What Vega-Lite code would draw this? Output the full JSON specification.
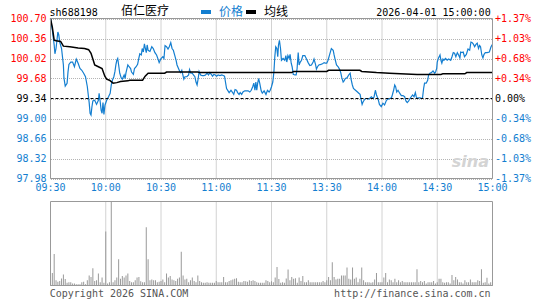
{
  "$schema": "https://vega.github.io/schema/vega-lite/v6.json",
  "width": 545,
  "height": 300,
  "autosize": {"type": "none"},
  "padding": 0,
  "background": "#ffffff",
  "config": {
    "view": {"stroke": null},
    "font": "DejaVu Sans Mono",
    "axis": {"labelFont": "DejaVu Sans Mono", "labelFontSize": 10, "domain": false, "ticks": false, "tickSize": 0, "title": null, "gridColor": "#b4b4b4", "gridDash": [1, 1], "gridWidth": 1, "gridOpacity": 1, "labelOverlap": false, "labelFlush": false, "labelBound": false}
  },
  "datasets": {
    "times": [
      {"t":0,"label":"09:30"},{"t":30,"label":"10:00"},{"t":60,"label":"10:30"},{"t":90,"label":"11:00"},{"t":120,"label":"11:30"},{"t":150,"label":"13:30"},{"t":180,"label":"14:00"},{"t":210,"label":"14:30"},{"t":240,"label":"15:00"}
    ],
    "price": [
      {"t":0,"p":100.70},{"t":1,"p":100.50},{"t":2,"p":100.25},{"t":2.4,"p":100.10},{"t":3,"p":100.19},{"t":4,"p":100.47},{"t":4.5,"p":100.42},{"t":5,"p":100.30},{"t":6,"p":100.19},{"t":7,"p":99.91},{"t":7.3,"p":99.69},{"t":8,"p":99.55},{"t":9,"p":99.60},{"t":9.5,"p":99.79},{"t":10,"p":99.92},{"t":11,"p":99.96},{"t":12,"p":99.96},{"t":13,"p":99.88},{"t":14,"p":100.01},{"t":15,"p":99.94},{"t":16,"p":99.85},{"t":17,"p":99.82},{"t":18,"p":99.77},{"t":19,"p":99.71},{"t":20,"p":99.54},{"t":20.4,"p":99.43},{"t":21,"p":99.27},{"t":21.5,"p":99.09},{"t":22,"p":99.06},{"t":22.5,"p":99.20},{"t":23,"p":99.30},{"t":24,"p":99.31},{"t":25,"p":99.24},{"t":26,"p":99.31},{"t":26.4,"p":99.43},{"t":27,"p":99.28},{"t":27.5,"p":99.14},{"t":28,"p":99.09},{"t":28.5,"p":99.27},{"t":29,"p":99.07},{"t":29.6,"p":99.23},{"t":30.5,"p":99.31},{"t":31.5,"p":99.37},{"t":32.4,"p":99.43},{"t":33,"p":99.57},{"t":33.6,"p":99.65},{"t":34.4,"p":99.71},{"t":35,"p":99.80},{"t":35.5,"p":99.91},{"t":36,"p":99.99},{"t":36.5,"p":100.02},{"t":37,"p":99.91},{"t":37.6,"p":99.77},{"t":38.4,"p":99.69},{"t":39,"p":99.67},{"t":40,"p":99.74},{"t":40.5,"p":99.68},{"t":41,"p":99.78},{"t":42,"p":99.91},{"t":42.7,"p":99.88},{"t":43.5,"p":99.85},{"t":44,"p":99.79},{"t":45,"p":99.75},{"t":45.6,"p":99.85},{"t":46.5,"p":99.88},{"t":47.3,"p":99.92},{"t":48,"p":100.03},{"t":48.5,"p":100.10},{"t":49.3,"p":100.08},{"t":49.8,"p":100.19},{"t":50.4,"p":100.13},{"t":51,"p":100.27},{"t":51.5,"p":100.19},{"t":52,"p":100.12},{"t":52.5,"p":100.25},{"t":53,"p":100.16},{"t":54,"p":100.14},{"t":55,"p":100.22},{"t":55.8,"p":100.19},{"t":56.7,"p":100.12},{"t":57.6,"p":100.08},{"t":58.4,"p":100.01},{"t":59,"p":99.95},{"t":60,"p":100.02},{"t":61,"p":100.05},{"t":61.6,"p":100.02},{"t":62.2,"p":100.24},{"t":63,"p":100.22},{"t":63.8,"p":100.18},{"t":64.5,"p":100.22},{"t":65.3,"p":100.29},{"t":66,"p":100.19},{"t":66.7,"p":100.16},{"t":67.5,"p":100.07},{"t":68.2,"p":99.99},{"t":68.7,"p":99.91},{"t":69.5,"p":99.85},{"t":70.2,"p":99.80},{"t":70.7,"p":99.78},{"t":71.3,"p":99.82},{"t":71.8,"p":99.75},{"t":72.4,"p":99.67},{"t":73,"p":99.71},{"t":74,"p":99.71},{"t":75,"p":99.74},{"t":75.5,"p":99.83},{"t":76.2,"p":99.77},{"t":77,"p":99.77},{"t":77.6,"p":99.74},{"t":78.4,"p":99.71},{"t":79,"p":99.62},{"t":79.6,"p":99.57},{"t":80.2,"p":99.68},{"t":80.7,"p":99.80},{"t":81.5,"p":99.74},{"t":82.4,"p":99.73},{"t":83.3,"p":99.73},{"t":84.2,"p":99.74},{"t":85,"p":99.77},{"t":85.8,"p":99.74},{"t":86.5,"p":99.78},{"t":87.3,"p":99.75},{"t":88,"p":99.72},{"t":88.7,"p":99.75},{"t":89.5,"p":99.74},{"t":90.2,"p":99.72},{"t":91,"p":99.74},{"t":92,"p":99.73},{"t":93,"p":99.74},{"t":93.8,"p":99.73},{"t":94.5,"p":99.72},{"t":95,"p":99.62},{"t":95.6,"p":99.51},{"t":96.4,"p":99.47},{"t":97,"p":99.44},{"t":98,"p":99.48},{"t":98.7,"p":99.45},{"t":99.5,"p":99.41},{"t":100.2,"p":99.49},{"t":101,"p":99.48},{"t":101.6,"p":99.44},{"t":102.4,"p":99.41},{"t":103,"p":99.44},{"t":103.8,"p":99.41},{"t":104.5,"p":99.45},{"t":105.5,"p":99.47},{"t":106.4,"p":99.47},{"t":107.3,"p":99.47},{"t":108.2,"p":99.45},{"t":109,"p":99.48},{"t":109.8,"p":99.54},{"t":110.4,"p":99.60},{"t":111,"p":99.48},{"t":111.5,"p":99.62},{"t":112,"p":99.48},{"t":112.5,"p":99.60},{"t":113,"p":99.68},{"t":113.6,"p":99.60},{"t":114.4,"p":99.47},{"t":115,"p":99.43},{"t":116,"p":99.47},{"t":117,"p":99.41},{"t":117.8,"p":99.48},{"t":118.7,"p":99.45},{"t":119.3,"p":99.48},{"t":120,"p":99.54},{"t":120.7,"p":99.62},{"t":121.3,"p":99.79},{"t":121.8,"p":100.05},{"t":122.3,"p":100.22},{"t":122.9,"p":100.19},{"t":123.4,"p":100.05},{"t":123.8,"p":100.25},{"t":124.3,"p":100.33},{"t":124.9,"p":100.19},{"t":125.4,"p":99.99},{"t":126.3,"p":100.02},{"t":127.2,"p":99.99},{"t":127.8,"p":100.07},{"t":128.3,"p":99.96},{"t":128.9,"p":100.07},{"t":129.6,"p":100.02},{"t":130.1,"p":100.09},{"t":130.7,"p":99.94},{"t":131.2,"p":99.88},{"t":131.8,"p":99.75},{"t":132.7,"p":99.74},{"t":133.4,"p":99.74},{"t":133.9,"p":99.85},{"t":134.5,"p":100.12},{"t":135,"p":99.91},{"t":135.6,"p":99.96},{"t":136.3,"p":99.99},{"t":137,"p":100.07},{"t":138.1,"p":100.07},{"t":139,"p":100.01},{"t":139.9,"p":99.95},{"t":140.8,"p":99.90},{"t":141.7,"p":99.91},{"t":142.6,"p":99.96},{"t":143.1,"p":100.01},{"t":143.9,"p":99.92},{"t":144.4,"p":99.84},{"t":145,"p":99.88},{"t":145.7,"p":99.91},{"t":146.8,"p":99.92},{"t":147.7,"p":99.93},{"t":148.6,"p":99.95},{"t":149.3,"p":99.94},{"t":150,"p":99.94},{"t":150.7,"p":99.99},{"t":151.6,"p":100.09},{"t":152.5,"p":100.19},{"t":153.5,"p":100.16},{"t":154,"p":100.08},{"t":154.5,"p":100.01},{"t":155.3,"p":99.91},{"t":156.2,"p":99.88},{"t":156.9,"p":99.84},{"t":157.6,"p":99.78},{"t":158.2,"p":99.69},{"t":158.9,"p":99.62},{"t":159.4,"p":99.64},{"t":160.1,"p":99.68},{"t":161,"p":99.69},{"t":161.9,"p":99.74},{"t":162.7,"p":99.77},{"t":163.2,"p":99.67},{"t":163.9,"p":99.57},{"t":164.5,"p":99.51},{"t":165.6,"p":99.48},{"t":166.7,"p":99.45},{"t":167.4,"p":99.43},{"t":168.1,"p":99.41},{"t":168.6,"p":99.33},{"t":169.2,"p":99.24},{"t":169.7,"p":99.28},{"t":170.3,"p":99.31},{"t":171,"p":99.34},{"t":171.7,"p":99.34},{"t":172.4,"p":99.33},{"t":173.3,"p":99.34},{"t":174.2,"p":99.37},{"t":175.2,"p":99.34},{"t":175.7,"p":99.37},{"t":176.4,"p":99.48},{"t":177.1,"p":99.39},{"t":177.9,"p":99.33},{"t":178.6,"p":99.24},{"t":179.6,"p":99.20},{"t":180.5,"p":99.26},{"t":181.4,"p":99.23},{"t":182.4,"p":99.31},{"t":183.3,"p":99.33},{"t":184.2,"p":99.34},{"t":185.1,"p":99.35},{"t":185.6,"p":99.40},{"t":186.3,"p":99.48},{"t":186.9,"p":99.57},{"t":187.4,"p":99.54},{"t":188,"p":99.45},{"t":188.7,"p":99.48},{"t":189.6,"p":99.43},{"t":190.5,"p":99.39},{"t":191.4,"p":99.39},{"t":192.3,"p":99.37},{"t":193,"p":99.30},{"t":193.7,"p":99.27},{"t":194.5,"p":99.30},{"t":195.2,"p":99.34},{"t":195.9,"p":99.37},{"t":196.6,"p":99.40},{"t":197.4,"p":99.37},{"t":198.1,"p":99.44},{"t":198.6,"p":99.37},{"t":199.2,"p":99.34},{"t":199.9,"p":99.35},{"t":200.8,"p":99.35},{"t":201.5,"p":99.34},{"t":202,"p":99.35},{"t":202.6,"p":99.51},{"t":203.1,"p":99.60},{"t":204,"p":99.60},{"t":204.8,"p":99.65},{"t":205.3,"p":99.74},{"t":206,"p":99.77},{"t":206.8,"p":99.78},{"t":207.7,"p":99.81},{"t":208.6,"p":99.77},{"t":209.1,"p":99.79},{"t":209.7,"p":99.85},{"t":210,"p":99.96},{"t":210.7,"p":100.03},{"t":211.5,"p":100.08},{"t":212,"p":99.99},{"t":212.5,"p":99.94},{"t":213.1,"p":100.01},{"t":213.6,"p":99.99},{"t":214.5,"p":100.02},{"t":215.4,"p":99.99},{"t":216.2,"p":100.01},{"t":217.3,"p":99.99},{"t":218,"p":100.05},{"t":218.7,"p":100.12},{"t":219.4,"p":100.11},{"t":220.1,"p":100.05},{"t":220.9,"p":100.12},{"t":221.6,"p":100.08},{"t":222.3,"p":100.03},{"t":222.7,"p":100.13},{"t":223.4,"p":100.12},{"t":224.1,"p":100.13},{"t":224.8,"p":100.05},{"t":225.8,"p":100.09},{"t":226.7,"p":100.18},{"t":227.6,"p":100.16},{"t":228.3,"p":100.30},{"t":229,"p":100.29},{"t":229.7,"p":100.26},{"t":230.3,"p":100.22},{"t":231,"p":100.26},{"t":231.7,"p":100.28},{"t":232.4,"p":100.19},{"t":233,"p":100.24},{"t":233.5,"p":100.22},{"t":234.2,"p":100.08},{"t":234.8,"p":100.03},{"t":235.4,"p":100.09},{"t":236.1,"p":100.12},{"t":237.1,"p":100.12},{"t":238.3,"p":100.13},{"t":239.2,"p":100.22},{"t":240,"p":100.26}
    ],
    "avg": [
      {"t":0,"p":100.70},{"t":1,"p":100.55},{"t":2,"p":100.33},{"t":3,"p":100.32},{"t":5.5,"p":100.31},{"t":7,"p":100.23},{"t":10.5,"p":100.22},{"t":15,"p":100.20},{"t":18.5,"p":100.19},{"t":20.7,"p":100.17},{"t":22,"p":100.11},{"t":23,"p":100.01},{"t":24,"p":99.91},{"t":26,"p":99.88},{"t":28,"p":99.85},{"t":29.5,"p":99.72},{"t":30.5,"p":99.67},{"t":32,"p":99.65},{"t":34,"p":99.60},{"t":36,"p":99.61},{"t":38,"p":99.63},{"t":42,"p":99.64},{"t":43,"p":99.65},{"t":50,"p":99.65},{"t":51.4,"p":99.72},{"t":53,"p":99.77},{"t":62,"p":99.77},{"t":63,"p":99.79},{"t":80,"p":99.79},{"t":81,"p":99.78},{"t":131,"p":99.78},{"t":132,"p":99.80},{"t":150,"p":99.80},{"t":151,"p":99.82},{"t":168,"p":99.82},{"t":169,"p":99.80},{"t":177,"p":99.78},{"t":184,"p":99.77},{"t":199,"p":99.75},{"t":212,"p":99.75},{"t":213,"p":99.76},{"t":225,"p":99.76},{"t":226,"p":99.78},{"t":240,"p":99.78}
    ],
    "vol": [
      {"t":0,"v":20},{"t":1,"v":47},{"t":2,"v":117},{"t":3,"v":20},{"t":4,"v":14},{"t":5,"v":17},{"t":6,"v":26},{"t":7,"v":41},{"t":8,"v":24},{"t":9,"v":10},{"t":10,"v":12},{"t":11,"v":12},{"t":12,"v":7},{"t":13,"v":7},{"t":14,"v":5},{"t":15,"v":5},{"t":16,"v":5},{"t":17,"v":12},{"t":18,"v":14},{"t":19,"v":5},{"t":20,"v":20},{"t":21,"v":37},{"t":22,"v":32},{"t":23,"v":64},{"t":24,"v":17},{"t":25,"v":20},{"t":26,"v":45},{"t":27,"v":12},{"t":28,"v":30},{"t":29,"v":10},{"t":30,"v":201},{"t":31,"v":7},{"t":32,"v":12},{"t":33,"v":313},{"t":34,"v":12},{"t":35,"v":20},{"t":36,"v":30},{"t":37,"v":98},{"t":38,"v":25},{"t":39,"v":35},{"t":40,"v":30},{"t":41,"v":37},{"t":42,"v":45},{"t":43,"v":17},{"t":44,"v":12},{"t":45,"v":12},{"t":46,"v":20},{"t":47,"v":30},{"t":48,"v":32},{"t":49,"v":16},{"t":50,"v":12},{"t":51,"v":12},{"t":52,"v":217},{"t":53,"v":98},{"t":54,"v":20},{"t":55,"v":22},{"t":56,"v":20},{"t":57,"v":20},{"t":58,"v":12},{"t":59,"v":14},{"t":60,"v":17},{"t":61,"v":22},{"t":62,"v":12},{"t":63,"v":45},{"t":64,"v":30},{"t":65,"v":35},{"t":66,"v":22},{"t":67,"v":20},{"t":68,"v":17},{"t":69,"v":25},{"t":70,"v":30},{"t":71,"v":126},{"t":72,"v":37},{"t":73,"v":22},{"t":74,"v":25},{"t":75,"v":12},{"t":76,"v":20},{"t":77,"v":30},{"t":78,"v":17},{"t":79,"v":12},{"t":80,"v":37},{"t":81,"v":17},{"t":82,"v":12},{"t":83,"v":10},{"t":84,"v":10},{"t":85,"v":12},{"t":86,"v":10},{"t":87,"v":10},{"t":88,"v":10},{"t":89,"v":10},{"t":90,"v":17},{"t":91,"v":12},{"t":92,"v":12},{"t":93,"v":12},{"t":94,"v":32},{"t":95,"v":12},{"t":96,"v":12},{"t":97,"v":17},{"t":98,"v":20},{"t":99,"v":22},{"t":100,"v":25},{"t":101,"v":27},{"t":102,"v":14},{"t":103,"v":12},{"t":104,"v":12},{"t":105,"v":17},{"t":106,"v":16},{"t":107,"v":14},{"t":108,"v":20},{"t":109,"v":17},{"t":110,"v":20},{"t":111,"v":17},{"t":112,"v":12},{"t":113,"v":10},{"t":114,"v":10},{"t":115,"v":10},{"t":116,"v":10},{"t":117,"v":20},{"t":118,"v":17},{"t":119,"v":12},{"t":120,"v":16},{"t":121,"v":12},{"t":122,"v":30},{"t":123,"v":69},{"t":124,"v":24},{"t":125,"v":10},{"t":126,"v":12},{"t":127,"v":10},{"t":128,"v":26},{"t":129,"v":60},{"t":130,"v":20},{"t":131,"v":32},{"t":132,"v":25},{"t":133,"v":27},{"t":134,"v":10},{"t":135,"v":30},{"t":136,"v":17},{"t":137,"v":35},{"t":138,"v":12},{"t":139,"v":12},{"t":140,"v":20},{"t":141,"v":12},{"t":142,"v":12},{"t":143,"v":12},{"t":144,"v":12},{"t":145,"v":12},{"t":146,"v":12},{"t":147,"v":12},{"t":148,"v":17},{"t":149,"v":12},{"t":150,"v":20},{"t":151,"v":32},{"t":152,"v":20},{"t":153,"v":87},{"t":154,"v":32},{"t":155,"v":22},{"t":156,"v":25},{"t":157,"v":25},{"t":158,"v":37},{"t":159,"v":37},{"t":160,"v":37},{"t":161,"v":67},{"t":162,"v":25},{"t":163,"v":22},{"t":164,"v":67},{"t":165,"v":25},{"t":166,"v":30},{"t":167,"v":12},{"t":168,"v":25},{"t":169,"v":67},{"t":170,"v":20},{"t":171,"v":12},{"t":172,"v":12},{"t":173,"v":12},{"t":174,"v":10},{"t":175,"v":12},{"t":176,"v":22},{"t":177,"v":47},{"t":178,"v":12},{"t":179,"v":12},{"t":180,"v":12},{"t":181,"v":30},{"t":182,"v":47},{"t":183,"v":12},{"t":184,"v":22},{"t":185,"v":20},{"t":186,"v":12},{"t":187,"v":25},{"t":188,"v":12},{"t":189,"v":20},{"t":190,"v":12},{"t":191,"v":17},{"t":192,"v":12},{"t":193,"v":12},{"t":194,"v":12},{"t":195,"v":12},{"t":196,"v":12},{"t":197,"v":12},{"t":198,"v":12},{"t":199,"v":61},{"t":200,"v":12},{"t":201,"v":17},{"t":202,"v":12},{"t":203,"v":17},{"t":204,"v":7},{"t":205,"v":12},{"t":206,"v":12},{"t":207,"v":12},{"t":208,"v":17},{"t":209,"v":7},{"t":210,"v":12},{"t":211,"v":25},{"t":212,"v":25},{"t":213,"v":12},{"t":214,"v":10},{"t":215,"v":12},{"t":216,"v":12},{"t":217,"v":7},{"t":218,"v":39},{"t":219,"v":20},{"t":220,"v":32},{"t":221,"v":22},{"t":222,"v":12},{"t":223,"v":12},{"t":224,"v":7},{"t":225,"v":20},{"t":226,"v":12},{"t":227,"v":12},{"t":228,"v":22},{"t":229,"v":12},{"t":230,"v":12},{"t":231,"v":12},{"t":232,"v":20},{"t":233,"v":17},{"t":234,"v":61},{"t":235,"v":10},{"t":236,"v":12},{"t":237,"v":29},{"t":238,"v":7},{"t":239,"v":12},{"t":240,"v":12}
    ]
  },
  "resolve": {"scale": {"y": "independent"}, "axis": {"y": "independent"}},
  "layer": [
    {
      "resolve": {"axis": {"y": "independent"}},
      "layer": [
        {
          "data": {"name": "times"},
          "mark": {"type": "rule", "color": "#a4a4a4", "strokeDash": [1, 1], "strokeWidth": 1},
          "encoding": {
            "x": {"field": "t", "type": "quantitative", "axis": null,
              "scale": {"domain": [0, 240], "range": [50.5, 492.5], "nice": false, "zero": false, "padding": 0}},
            "y": {"datum": 97.98, "axis": null}, "y2": {"datum": 100.70}}
        },
        {
          "data": {"name": "price"},
          "mark": {"type": "line", "strokeWidth": 1.2},
          "encoding": {
            "x": {"field": "t", "type": "quantitative", "axis": null,
              "scale": {"domain": [0, 240], "range": [50.5, 492.5], "nice": false, "zero": false, "padding": 0}},
            "y": {"field": "p", "type": "quantitative",
              "scale": {"domain": [97.98, 100.70], "range": [178.5, 18.5], "nice": false, "zero": false},
              "axis": {"orient": "left", "offset": -50, "values": [97.98, 98.32, 98.66, 99.0, 99.34, 99.68, 100.02, 100.36, 100.70], "format": ".2f", "labelPadding": 4, "labelBaseline": "middle", "grid": true,
                "labelColor": {"condition": [{"test": "datum.value > 99.35", "value": "#ff0000"}, {"test": "datum.value < 99.33", "value": "#137ed0"}], "value": "#000000"}}},
            "color": {"datum": "价格", "type": "nominal",
              "scale": {"domain": ["价格", "均线"], "range": ["#137ed0", "#000000"]},
              "legend": {"orient": "none", "legendX": 199, "legendY": 5, "direction": "horizontal", "columns": 2, "title": null, "symbolType": "stroke", "symbolStrokeWidth": 4, "symbolSize": 100, "labelFont": "Noto Sans CJK SC", "labelFontSize": 12, "labelOffset": 6, "columnPadding": -11, "padding": 0, "labelColor": {"expr": "datum.value === '价格' ? '#137ed0' : '#000000'"}}}
          }
        },
        {
          "data": {"name": "avg"},
          "mark": {"type": "line", "strokeWidth": 1.5},
          "encoding": {
            "x": {"field": "t", "type": "quantitative", "axis": null},
            "y": {"field": "p", "type": "quantitative",
              "axis": {"orient": "right", "offset": -52.5, "values": [97.98, 98.32, 98.66, 99.0, 99.34, 99.68, 100.02, 100.36, 100.70], "labelPadding": 2, "labelBaseline": "middle", "grid": false,
                "labelExpr": "(datum.value > 99.35 ? '+' : datum.value < 99.33 ? '-' : '') + format(abs(datum.value - 99.34) / 99.34 * 100, '.2f') + '%'",
                "labelColor": {"condition": [{"test": "datum.value > 99.35", "value": "#ff0000"}, {"test": "datum.value < 99.33", "value": "#137ed0"}], "value": "#000000"}}},
            "color": {"datum": "均线", "type": "nominal"}
          }
        },
        {
          "data": {"values": [{}]},
          "mark": {"type": "rule", "color": "#000000", "strokeDash": [3, 2], "strokeWidth": 1},
          "encoding": {"x": {"datum": 0, "axis": null}, "x2": {"datum": 240}, "y": {"datum": 99.34, "axis": null}}
        },
        {
          "data": {"values": [{}]},
          "mark": {"type": "rect", "fill": "transparent", "stroke": "#999999", "strokeWidth": 1},
          "encoding": {"x": {"datum": 0, "axis": null}, "x2": {"datum": 240}, "y": {"datum": 97.98, "axis": null}, "y2": {"datum": 100.70}}
        },
        {
          "data": {"name": "times"},
          "mark": {"type": "text", "align": "center", "baseline": "middle", "font": "DejaVu Sans Mono", "fontSize": 10, "color": "#137ed0"},
          "encoding": {"text": {"field": "label"}, "x": {"field": "t", "type": "quantitative", "axis": null}, "y": {"datum": 97.82, "axis": null}}
        },
        {
          "data": {"values": [{"label": "sh688198"}]},
          "mark": {"type": "text", "align": "left", "baseline": "alphabetic", "font": "DejaVu Sans Mono", "fontSize": 10, "color": "#000000"},
          "encoding": {"text": {"field": "label"}, "x": {"datum": -0.5, "axis": null}, "y": {"datum": 100.75, "axis": null}}
        },
        {
          "data": {"values": [{"label": "佰仁医疗"}]},
          "mark": {"type": "text", "align": "left", "baseline": "alphabetic", "font": "Noto Sans CJK SC", "fontSize": 12, "color": "#000000"},
          "encoding": {"text": {"field": "label"}, "x": {"datum": 38.3, "axis": null}, "y": {"datum": 100.755, "axis": null}}
        },
        {
          "data": {"values": [{"label": "2026-04-01 15:00:00"}]},
          "mark": {"type": "text", "align": "right", "baseline": "alphabetic", "font": "DejaVu Sans Mono", "fontSize": 10, "color": "#000000"},
          "encoding": {"text": {"field": "label"}, "x": {"datum": 239, "axis": null}, "y": {"datum": 100.75, "axis": null}}
        },
        {
          "data": {"values": [{"label": "sina"}]},
          "mark": {"type": "text", "align": "center", "baseline": "alphabetic", "font": "DejaVu Sans", "fontSize": 16, "fontWeight": "bold", "fontStyle": "italic", "color": "#d4d4d4"},
          "encoding": {"text": {"field": "label"}, "x": {"datum": 228, "axis": null}, "y": {"datum": 98.17, "axis": null}}
        }
      ]
    },
    {
      "layer": [
        {
          "data": {"name": "times"},
          "mark": {"type": "rule", "color": "#a4a4a4", "strokeDash": [1, 1], "strokeWidth": 1},
          "encoding": {"x": {"field": "t", "type": "quantitative", "axis": null}, "y": {"datum": 0, "axis": null}, "y2": {"datum": 313}}
        },
        {
          "data": {"name": "vol"},
          "mark": {"type": "bar", "width": 1, "color": "#999999"},
          "encoding": {
            "x": {"field": "t", "type": "quantitative", "axis": null,
              "scale": {"domain": [0, 240], "range": [50.5, 492.5], "nice": false, "zero": false, "padding": 0}},
            "y": {"field": "v", "type": "quantitative",
              "scale": {"domain": [0, 313], "range": [285.5, 201.5], "nice": false},
              "axis": {"orient": "left", "offset": -50, "values": [78, 156, 235, 313], "labelColor": "#999999", "labelPadding": 4, "labelBaseline": "middle", "grid": true}}
          }
        },
        {
          "data": {"values": [{}]},
          "mark": {"type": "rect", "fill": "transparent", "stroke": "#999999", "strokeWidth": 1},
          "encoding": {"x": {"datum": 0, "axis": null}, "x2": {"datum": 240}, "y": {"datum": 0, "axis": null}, "y2": {"datum": 313}}
        },
        {
          "data": {"values": [{"label": "Copyright 2026 SINA.COM"}]},
          "mark": {"type": "text", "align": "left", "baseline": "alphabetic", "font": "DejaVu Sans Mono", "fontSize": 10, "color": "#555555"},
          "encoding": {"text": {"field": "label"}, "x": {"datum": -0.4, "axis": null}, "y": {"datum": -43, "axis": null}}
        },
        {
          "data": {"values": [{"label": "http://finance.sina.com.cn"}]},
          "mark": {"type": "text", "align": "right", "baseline": "alphabetic", "font": "DejaVu Sans Mono", "fontSize": 10, "color": "#555555"},
          "encoding": {"text": {"field": "label"}, "x": {"datum": 239, "axis": null}, "y": {"datum": -43, "axis": null}}
        }
      ]
    }
  ]
}
